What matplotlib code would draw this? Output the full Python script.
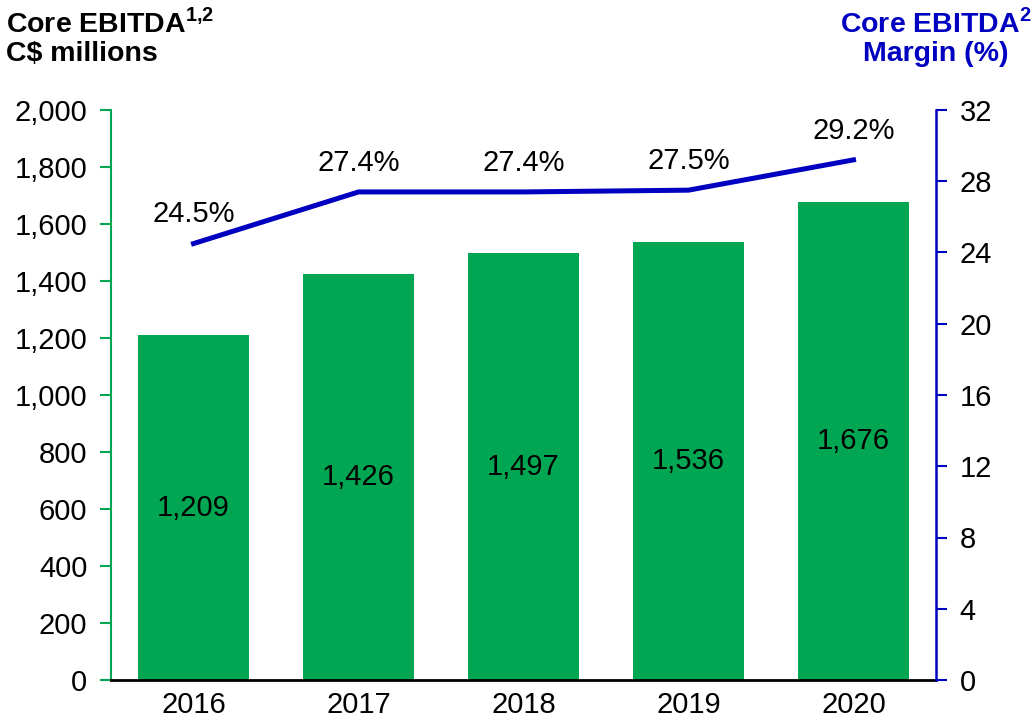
import matplotlib
matplotlib.use("Agg")
import matplotlib.pyplot as plt

years = ["2016", "2017", "2018", "2019", "2020"]
ebitda = [1209, 1426, 1497, 1536, 1676]
margin = [24.5, 27.4, 27.4, 27.5, 29.2]
left_ticks = [0, 200, 400, 600, 800, 1000, 1200, 1400, 1600, 1800, 2000]
right_ticks = [0, 4, 8, 12, 16, 20, 24, 28, 32]

plt.rcParams['font.family'] = ['Liberation Sans', 'DejaVu Sans']
plt.rcParams['mathtext.fontset'] = 'custom'
plt.rcParams['mathtext.rm'] = 'Liberation Sans'
plt.rcParams['mathtext.bf'] = 'Liberation Sans:bold'

GREEN = '#00A651'
BLUE = '#0000C0'
FS = 21

fig = plt.figure(figsize=(10.33, 7.2), dpi=100)
ax = fig.add_axes([111/1033, 40/720, 825/1033, 570/720])
x = list(range(len(years)))
ax.bar(x, ebitda, width=0.667, color=GREEN, zorder=2)
ax.set_xlim(-0.5, 4.5)
ax.set_ylim(0, 2000)
ax.set_yticks(left_ticks)
ax.set_yticklabels([f"{v:,}" for v in left_ticks])
ax.set_xticks(x)
ax.set_xticklabels(years)
ax.tick_params(axis='y', colors='black', labelsize=FS, length=8, width=1.5, color=GREEN, pad=9)
ax.tick_params(axis='x', labelsize=FS, length=0, pad=8)
for s in ['top', 'right']:
    ax.spines[s].set_visible(False)
ax.spines['left'].set_color(GREEN)
ax.spines['left'].set_linewidth(1.5)
ax.spines['bottom'].set_color('black')
ax.spines['bottom'].set_linewidth(2)
ax.spines['bottom'].set_zorder(5)

for xi, v in zip(x, ebitda):
    ax.text(xi, v / 2, f"{v:,}", ha='center', va='center', fontsize=FS, color='black', zorder=3)

ax2 = ax.twinx()
ax2.set_ylim(0, 32)
ax2.set_yticks(right_ticks)
ax2.plot(x, margin, color=BLUE, linewidth=3.6, zorder=4)
for s in ['top', 'left', 'bottom']:
    ax2.spines[s].set_visible(False)
ax2.spines['right'].set_color(BLUE)
ax2.spines['right'].set_linewidth(1.8)
ax2.tick_params(axis='y', colors='black', labelsize=FS, length=8, width=1.5, color=BLUE, pad=9)
for xi, m in zip(x, margin):
    ax2.annotate(f"{m}%", (xi, m), xytext=(0, 21), textcoords='offset points',
                 ha='center', va='center', fontsize=FS, color='black')

TFS = 20.5
fig.text(6/1033, 1 - 8/720, r"Core EBITDA$^{\mathbf{1{,}2}}$", ha='left', va='top',
         fontsize=TFS, fontweight='bold', color='black')
fig.text(6/1033, 1 - 41/720, "C$ millions", ha='left', va='top',
         fontsize=TFS, fontweight='bold', color='black')
fig.text(936/1033, 1 - 8/720, r"Core EBITDA$^{\mathbf{2}}$", ha='center', va='top',
         fontsize=TFS, fontweight='bold', color=BLUE)
fig.text(936/1033, 1 - 41/720, "Margin (%)", ha='center', va='top',
         fontsize=TFS, fontweight='bold', color=BLUE)

fig.savefig("out.png", dpi=100)
